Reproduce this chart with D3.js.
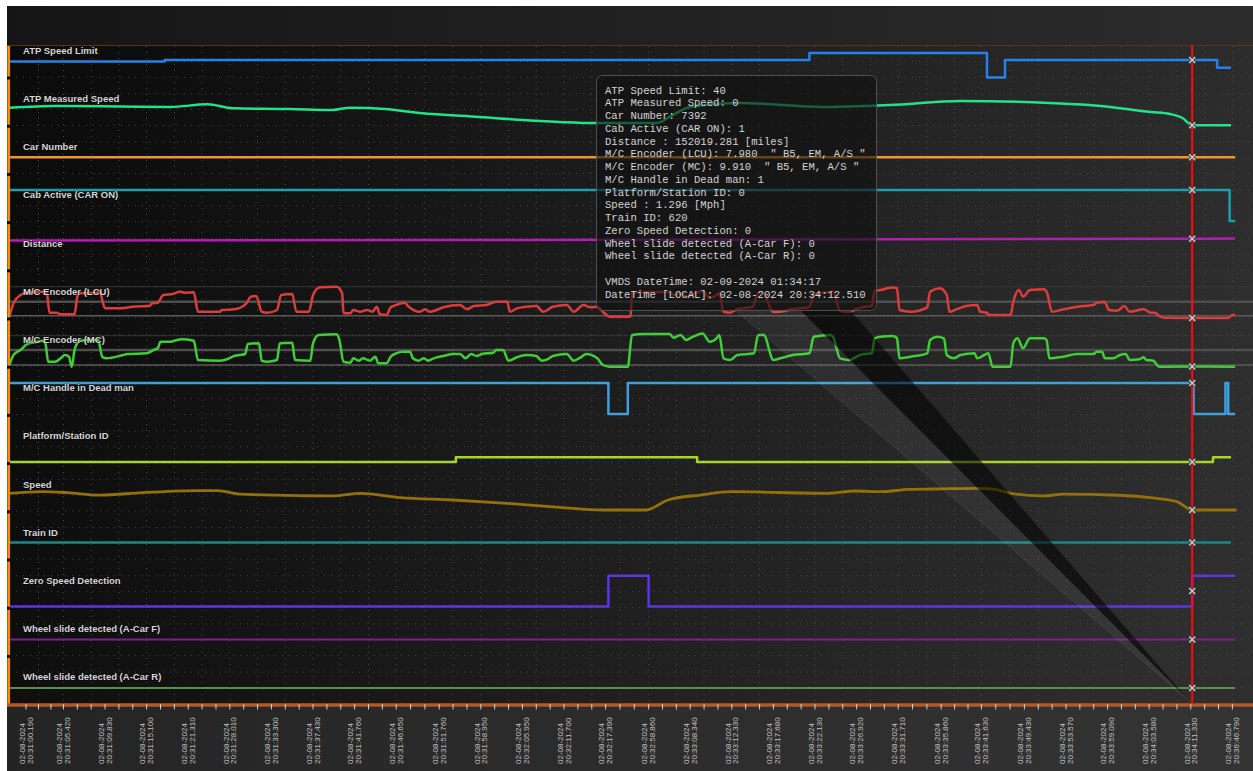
<!DOCTYPE html>
<html>
<head>
<meta charset="utf-8">
<script src="https://cdn.jsdelivr.net/npm/d3@7"></script>
<style>
  html, body { margin: 0; padding: 0; background: #fff; }
  svg { display: block; }
</style>
</head>
<body>
<svg id="chart" width="1253" height="771"></svg>
<script>
"use strict";

// ---- data (x = sample index on the log's index axis) ----
const seriesNames = [
  "ATP Speed Limit", "ATP Measured Speed", "Car Number", "Cab Active (CAR ON)",
  "Distance", "M/C Encoder (LCU)", "M/C Encoder (MC)", "M/C Handle in Dead man",
  "Platform/Station ID", "Speed", "Train ID", "Zero Speed Detection",
  "Wheel slide detected (A-Car F)", "Wheel slide detected (A-Car R)"
];

const labelDate = "02-08-2024";
const labelTimes = [
  "20:31:00.190", "20:31:05.420", "20:31:09.830", "20:31:15.100", "20:31:21.310",
  "20:31:28.010", "20:31:33.300", "20:31:37.430", "20:31:41.760", "20:31:46.650",
  "20:31:51.760", "20:31:58.950", "20:32:05.950", "20:32:11.700", "20:32:17.390",
  "20:32:58.860", "20:33:08.340", "20:33:12.330", "20:33:17.680", "20:33:22.130",
  "20:33:26.920", "20:33:31.710", "20:33:35.860", "20:33:41.630", "20:33:49.430",
  "20:33:53.570", "20:33:59.090", "20:34:03.580", "20:34:11.330", "20:36:46.790"
];
const labelSamples = [
  0, 27, 57, 87, 117, 147, 177, 207, 237, 267, 298, 328, 358, 388, 418,
  449, 479, 509, 539, 569, 599, 629, 660, 689, 720, 750, 780, 810, 840, 870
];

const atpSpeedLimit = [[-12, 38], [100, 40], [565, 50], [693, 15], [706, 40], [859, 29], [869, 29]];

const atpMeasuredSpeed = [
  [-12, 22.6], [22, 24.8], [68, 24.1], [104, 23.5], [131, 27.0], [149, 21.8], [190, 20.9],
  [221, 19.6], [234, 22.6], [259, 20.9], [284, 15.7], [327, 10.6], [371, 5.4], [407, 2.8],
  [455, 2.8], [464, 10.6], [479, 23.5], [515, 28.6], [575, 23.5], [623, 26.1], [674, 31.2],
  [738, 28.6], [775, 24.8], [811, 17.0], [825, 14.5], [834, 9.3], [841, 0], [869, 0]
];

const carNumber = [[-12, 7392], [872, 7392]];
const cabActive = [[-12, 1], [868, 0], [872, 0]];
const distance = [[-12, 152018.0], [841, 152019.281], [872, 152019.5]];

const encoderLcu = [
  [-12, 7.68], [-9, 4.33], [-4, 2.25], [1, 1.68], [12, 1.43], [15, 1.83], [17, 6.68], [22, 6.68],
  [25, 7.08], [35, 7.08], [37, 2.68], [39, 1.83], [51, 1.68], [53, 1.43], [57, 5.58], [68, 5.58],
  [77, 5.18], [89, 5.0], [91, 4.33], [95, 4.18], [99, 2.25], [106, 2.0], [111, 1.43], [115, 1.68],
  [121, 1.58], [124, 6.43], [140, 6.43], [141, 6.0], [150, 5.83], [159, 4.33], [162, 2.68],
  [166, 2.5], [170, 6.43], [174, 6.68], [181, 6.0], [184, 2.25], [192, 2.0], [195, 6.43],
  [204, 6.43], [207, 2.25], [212, 0.33], [224, 0.18], [228, 1.83], [229, 6.83], [234, 6.83],
  [236, 6.0], [241, 6.43], [246, 6.0], [250, 6.43], [253, 5.18], [255, 7.0], [260, 7.25],
  [263, 5.33], [267, 4.75], [273, 4.18], [276, 5.18], [284, 6.43], [288, 5.83], [291, 6.43],
  [296, 6.0], [301, 5.33], [313, 4.75], [318, 5.83], [323, 5.0], [332, 4.75], [339, 3.93],
  [347, 3.93], [349, 6.43], [354, 5.58], [361, 5.18], [368, 5.0], [373, 6.43], [380, 5.18],
  [390, 4.75], [395, 6.43], [402, 4.75], [407, 5.33], [412, 5.18], [416, 6.43], [421, 7.68],
  [436, 7.68], [437, 1.75], [445, 1.5], [464, 1.5], [467, 2.25], [472, 1.75], [477, 2.75],
  [481, 2.0], [488, 1.25], [493, 3.0], [498, 2.25], [500, 1.75], [503, 6.43], [508, 6.68],
  [513, 5.75], [524, 5.25], [528, 1.75], [531, 1.5], [539, 6.5], [544, 6.43], [553, 5.75],
  [565, 5.25], [568, 2.0], [580, 1.5], [582, 1.25], [587, 6.25], [594, 6.5], [599, 5.75],
  [604, 5.25], [610, 5.0], [612, 1.25], [616, 1.0], [625, 0.38], [628, 0.5], [630, 6.0],
  [638, 6.43], [650, 5.33], [652, 1.43], [659, 0.58], [664, 2.25], [666, 6.43], [671, 5.83],
  [678, 5.0], [686, 4.75], [688, 6.43], [693, 6.68], [694, 7.25], [710, 7.25], [712, 3.93],
  [716, 1.0], [719, 2.68], [724, 1.0], [734, 0.83], [736, 1.43], [740, 6.43], [748, 5.83],
  [762, 5.0], [770, 4.75], [772, 4.18], [778, 4.0], [781, 6.0], [787, 6.18], [792, 5.0],
  [796, 6.43], [806, 5.83], [811, 6.68], [814, 6.68], [818, 7.68], [821, 7.93], [841, 7.98],
  [867, 7.98], [870, 7.25], [872, 7.25]
];

const encoderMc = [
  [-12, 9.46], [-9, 6.46], [-4, 4.95], [1, 3.15], [8, 2.46], [12, 2.16], [14, 2.94], [16, 8.47],
  [21, 8.47], [25, 7.45], [28, 6.46], [31, 6.97], [33, 9.97], [35, 4.95], [38, 2.46], [40, 2.16],
  [44, 1.95], [52, 1.95], [55, 6.97], [58, 7.45], [70, 6.46], [73, 6.16], [87, 5.95], [92, 4.95],
  [95, 4.44], [97, 2.46], [104, 2.46], [109, 1.95], [112, 1.74], [121, 2.16], [124, 7.96],
  [140, 8.17], [145, 7.75], [150, 6.76], [158, 6.16], [160, 3.15], [168, 2.94], [170, 8.17],
  [174, 8.47], [181, 7.96], [183, 2.94], [192, 2.76], [194, 7.96], [205, 8.17], [207, 2.94],
  [211, 0.45], [224, 0.24], [226, 1.95], [229, 8.47], [234, 8.77], [236, 7.45], [240, 8.17],
  [243, 7.45], [248, 8.17], [252, 6.97], [254, 8.95], [260, 8.95], [263, 6.97], [267, 5.95],
  [272, 5.47], [277, 5.47], [279, 7.45], [283, 8.17], [287, 7.45], [290, 8.17], [294, 7.45],
  [301, 6.76], [308, 6.16], [313, 6.16], [317, 7.45], [321, 6.16], [325, 6.76], [329, 6.16],
  [337, 5.77], [339, 4.95], [344, 4.95], [348, 8.17], [354, 7.15], [361, 6.46], [368, 6.76],
  [372, 8.17], [376, 7.75], [380, 6.76], [390, 6.16], [395, 8.17], [400, 7.15], [404, 6.16],
  [412, 7.45], [416, 9.46], [421, 9.97], [434, 9.97], [437, 0.45], [445, 0.15], [464, 0.15],
  [467, 1.26], [472, 0.45], [476, 1.95], [481, 0.96], [488, 0.0], [493, 2.46], [498, 1.44],
  [500, 0.45], [503, 7.45], [508, 7.96], [513, 6.46], [525, 5.95], [528, 0.45], [532, 0.45],
  [539, 7.96], [544, 7.45], [553, 6.46], [565, 5.95], [568, 0.96], [580, 0.45], [582, 0.96],
  [587, 7.45], [594, 7.96], [599, 6.97], [604, 6.16], [610, 5.95], [612, 1.44], [616, 0.96],
  [625, 0.75], [628, 1.35], [630, 7.45], [638, 6.97], [650, 5.95], [652, 1.95], [657, 0.96],
  [662, 1.44], [664, 6.46], [669, 7.45], [674, 6.46], [684, 5.95], [686, 7.45], [691, 6.46],
  [694, 5.95], [697, 9.97], [710, 9.97], [712, 2.94], [715, 1.44], [719, 4.44], [724, 1.44],
  [734, 1.44], [736, 1.95], [738, 7.45], [748, 6.97], [758, 6.16], [770, 6.16], [772, 5.47],
  [776, 5.47], [778, 7.45], [784, 7.45], [789, 6.46], [793, 6.16], [796, 7.96], [803, 7.75],
  [806, 7.15], [808, 7.96], [813, 8.17], [817, 9.97], [841, 9.91], [872, 9.97]
];

const deadMan = [[-12, 1], [420, 0], [434, 1], [842, 0], [865, 1], [867, 0], [872, 0]];
const platformId = [[-12, 0], [310, 3], [484, 0], [856, 3], [869, 3]];

const speed = [
  [-12, 22.8], [12, 24.9], [30, 23.6], [53, 20.6], [84, 23.6], [125, 26.2], [138, 26.2],
  [154, 21.9], [198, 19.7], [221, 19.4], [241, 22.8], [270, 17.2], [308, 14.2], [347, 9.9],
  [385, 4.8], [416, 1.3], [447, 1.3], [463, 14.2], [486, 20.6], [509, 24.9], [578, 22.8],
  [598, 25.8], [617, 24.9], [637, 28.0], [656, 28.4], [687, 29.3], [699, 28.0], [710, 22.8],
  [733, 19.4], [749, 21.9], [788, 20.3], [811, 17.2], [830, 12.0], [841, 1.296], [873, 1.296]
];

const trainId = [[-12, 620], [869, 620]];
const zeroSpeed = [[-12, 0], [420, 1], [449, 0], [841, 1], [872, 1]];
const wheelSlideF = [[-12, 0], [872, 0]];
const wheelSlideR = [[-12, 0], [872, 0]];

// cursor sample and the value each marker sits on
const cursorSample = 841;
const markValues = [40, 0, 7392, 1, 152019.281, 7.98, 9.91, 1, 0, 1.296, 620, 0.5, 0, 0];

const tooltipLines = [
  "ATP Speed Limit: 40",
  "ATP Measured Speed: 0",
  "Car Number: 7392",
  "Cab Active (CAR ON): 1",
  "Distance : 152019.281 [miles]",
  "M/C Encoder (LCU): 7.980  \" B5, EM, A/S \"",
  "M/C Encoder (MC): 9.910  \" B5, EM, A/S \"",
  "M/C Handle in Dead man: 1",
  "Platform/Station ID: 0",
  "Speed : 1.296 [Mph]",
  "Train ID: 620",
  "Zero Speed Detection: 0",
  "Wheel slide detected (A-Car F): 0",
  "Wheel slide detected (A-Car R): 0",
  "",
  "VMDS DateTime: 02-09-2024 01:34:17",
  "DateTime [LOCAL]: 02-08-2024 20:34:12.510"
];

// ---- lane styling ----
const lanes = [
  { data: atpSpeedLimit, color: "#2482ec", domain: [0, 60], span: [43, 1], step: true },
  { data: atpMeasuredSpeed, color: "#22e38a", domain: [0, 40], span: [32, 1] },
  { data: carNumber, color: "#f0962e", domain: [0, 10000], span: [44, 6], step: true },
  { data: cabActive, color: "#1aa0b0", domain: [0, 1], span: [31.4, 0.4], step: true },
  { data: distance, color: "#b41cb4", domain: [151986, 152020], span: [44, 0] },
  { data: encoderLcu, color: "#dc3c3c", domain: [0, 8], span: [0, 32], refs: [0.18, 3.93, 7.43] },
  { data: encoderMc, color: "#40ce38", domain: [0, 10], span: [-0.7, 32.6], refs: [0.66, 4.95, 9.46] },
  { data: deadMan, color: "#3c9fe0", domain: [0, 1], span: [31.6, 0.6], step: true },
  { data: platformId, color: "#a6d52a", domain: [0, 20], span: [31.4, 0.4], step: true },
  { data: speed, color: "#94700a", domain: [0, 40], span: [32.2, 1.2], width: 2.8 },
  { data: trainId, color: "#138c88", domain: [0, 1200], span: [31, 1], step: true },
  { data: zeroSpeed, color: "#5b35e6", domain: [0, 1], span: [31.2, 0.6], step: true },
  { data: wheelSlideF, color: "#801d90", domain: [-1, 1], span: [31, 1], step: true, width: 2 },
  { data: wheelSlideR, color: "#5f8b4b", domain: [-1, 1], span: [31.8, 1], step: true, width: 2 }
];

const dims = {
  width: 1253, height: 771,
  left: 9, right: 1253, top: 45, bottom: 704,
  laneStep: 48.2,
  tip: { x: 596, y: 75, w: 280, h: 235 }
};

const svg = d3.select("#chart");
const defs = svg.append("defs");

function gradient(id, stops, x1, y1, x2, y2) {
  const g = defs.append("linearGradient").attr("id", id)
    .attr("gradientUnits", "userSpaceOnUse")
    .attr("x1", x1).attr("y1", y1).attr("x2", x2).attr("y2", y2);
  stops.forEach(([o, c]) => g.append("stop").attr("offset", o).attr("stop-color", c));
}
gradient("bgPlot", [[0, "#0a0a0a"], [0.3, "#141414"], [0.65, "#222"], [1, "#2e2e2e"]], 0, 0, 1253, 300);
gradient("bgHead", [[0, "#151515"], [1, "#2c2c2c"]], 0, 0, 1253, 0);
gradient("bgFoot", [[0, "#242424"], [1, "#343434"]], 0, 0, 1253, 0);

defs.append("clipPath").attr("id", "plotClip").append("rect")
  .attr("x", dims.left + 1).attr("y", dims.top)
  .attr("width", dims.right - dims.left).attr("height", dims.bottom - dims.top);

svg.append("rect").attr("width", dims.width).attr("height", dims.height).attr("fill", "#fff");
svg.append("rect").attr("x", 7).attr("y", 6).attr("width", dims.width - 7).attr("height", dims.top - 6)
  .attr("fill", "url(#bgHead)");
svg.append("rect").attr("x", 7).attr("y", dims.top).attr("width", dims.width - 7)
  .attr("height", dims.bottom - dims.top).attr("fill", "url(#bgPlot)");
svg.append("rect").attr("x", 7).attr("y", dims.bottom).attr("width", dims.width - 7)
  .attr("height", dims.height - dims.bottom).attr("fill", "url(#bgFoot)");

// scales
const x = d3.scaleLinear().domain([0, 870]).range([26, 1232.4]);
const lane = d3.scaleBand().domain(seriesNames)
  .range([dims.top, dims.top + dims.laneStep * seriesNames.length]);

lanes.forEach((s, i) => {
  const top = lane(seriesNames[i]);
  s.y = d3.scaleLinear().domain(s.domain).range([top + s.span[0], top + s.span[1]]);
  s.top = top;
});

// minor ticks: thirds between the labelled samples
const minorTicks = [labelSamples[0]];
for (let i = 1; i < labelSamples.length; i++) {
  const a = labelSamples[i - 1], b = labelSamples[i];
  minorTicks.push(a + (b - a) / 3, a + (2 * (b - a)) / 3, b);
}

// grid
const grid = svg.append("g").attr("clip-path", "url(#plotClip)");
grid.selectAll("line.v").data(minorTicks.filter((d, i) => i % 2 === 1)).join("line")
  .attr("class", "v")
  .attr("x1", (d) => x(d)).attr("x2", (d) => x(d))
  .attr("y1", dims.top + 1).attr("y2", dims.bottom - 1)
  .attr("stroke", "#4a4a4a").attr("stroke-width", 1).attr("stroke-dasharray", "1,5");

const hOffsets = [0.5, 16.2, 32.2];
lanes.forEach((s) => {
  hOffsets.forEach((o) => {
    grid.append("line")
      .attr("x1", dims.left).attr("x2", dims.right)
      .attr("y1", s.top + o).attr("y2", s.top + o)
      .attr("stroke", "#424242").attr("stroke-width", 1).attr("stroke-dasharray", "1,6");
  });
});

// encoder reference lines
const refStyle = [
  { color: "#363636", width: 1 },
  { color: "#4e4e4e", width: 2.6 },
  { color: "#5a5a5a", width: 1.5 }
];
lanes.filter((s) => s.refs).forEach((s) => {
  s.refs.forEach((r, j) => {
    grid.append("line")
      .attr("x1", dims.left).attr("x2", dims.right)
      .attr("y1", s.y(r)).attr("y2", s.y(r))
      .attr("stroke", refStyle[j].color).attr("stroke-width", refStyle[j].width);
  });
});

// series
const lineGroup = svg.append("g").attr("clip-path", "url(#plotClip)");
lanes.forEach((s) => {
  const line = d3.line()
    .x((d) => x(d[0]))
    .y((d) => s.y(d[1]))
    .curve(s.step ? d3.curveStepAfter : d3.curveMonotoneX);
  lineGroup.append("path")
    .attr("d", line(s.data))
    .attr("fill", "none")
    .attr("stroke", s.color)
    .attr("stroke-width", s.width || 2.5)
    .attr("stroke-linejoin", "round");
});

// left lane axes (orange)
lanes.forEach((s, i) => {
  const y0 = i === 0 ? dims.top : s.top - dims.laneStep + 34.5;
  const y1 = i === lanes.length - 1 ? dims.bottom : s.top + 31.5;
  svg.append("line")
    .attr("x1", 8.7).attr("x2", 8.7).attr("y1", y0).attr("y2", y1)
    .attr("stroke", "#f08c18").attr("stroke-width", 2.8);
});

// top border and bottom axis
svg.append("line").attr("x1", 7).attr("x2", dims.right).attr("y1", dims.top + 0.5).attr("y2", dims.top + 0.5)
  .attr("stroke", "#553519").attr("stroke-width", 1);
svg.append("line").attr("x1", 7).attr("x2", dims.right).attr("y1", dims.bottom + 1).attr("y2", dims.bottom + 1)
  .attr("stroke", "#b4582a").attr("stroke-width", 3.4);

const xAxis = svg.append("g");
xAxis.selectAll("line").data(minorTicks).join("line")
  .attr("x1", (d) => x(d)).attr("x2", (d) => x(d))
  .attr("y1", dims.bottom).attr("y2", dims.bottom + 5.5)
  .attr("stroke", "#cfcfcf").attr("stroke-width", 1);

const tickLabel = xAxis.selectAll("g.lbl").data(labelTimes).join("g")
  .attr("class", "lbl")
  .attr("transform", (d, i) => `translate(${x(labelSamples[i])},764) rotate(-90)`)
  .style("font-family", "'Liberation Sans', Arial, sans-serif")
  .style("font-size", "8px")
  .attr("fill", "#c2c2c2");
tickLabel.append("text").attr("x", 0).attr("y", -1.2).text(labelDate);
tickLabel.append("text").attr("x", 0).attr("y", 6.6).text((d) => d);

// lane labels
svg.append("g").selectAll("text").data(seriesNames).join("text")
  .attr("x", 23)
  .attr("y", (d) => lane(d) + 8.7)
  .style("font-family", "'Liberation Sans', Arial, sans-serif")
  .style("font-size", "9.5px")
  .style("font-weight", "bold")
  .attr("fill", "#d6d6d6")
  .attr("stroke", "rgba(0,0,0,0.45)")
  .attr("stroke-width", 1.2)
  .attr("paint-order", "stroke")
  .text((d) => d);

// tooltip tail
const cx = x(cursorSample);
const tip = dims.tip;
const apex = [cx - 2, dims.bottom - 2];
const tipBottom = tip.y + tip.h;
svg.append("path")
  .attr("d", d3.line()([[tip.x + 139, tipBottom], [tip.x + 204, tipBottom], apex]) + "Z")
  .attr("fill", "rgba(255,255,255,0.05)")
  .attr("stroke", "rgba(160,160,160,0.2)").attr("stroke-width", 0.8);
svg.append("path")
  .attr("d", d3.line()([[tip.x + 204, tipBottom], [tip.x + 254, tipBottom], apex]) + "Z")
  .attr("fill", "rgba(0,0,0,0.55)");

// tooltip box
const tipG = svg.append("g").attr("transform", `translate(${tip.x},${tip.y})`);
tipG.append("rect")
  .attr("x", 0.5).attr("y", 0.5).attr("width", tip.w).attr("height", tip.h).attr("rx", 6)
  .attr("fill", "rgba(16,16,16,0.62)")
  .attr("stroke", "#505050").attr("stroke-width", 1);
tipG.selectAll("text").data(tooltipLines).join("text")
  .attr("x", 9)
  .attr("y", (d, i) => 18.5 + 12.75 * i)
  .style("font-family", "'Liberation Mono', 'Courier New', monospace")
  .style("font-size", "10.6px")
  .style("white-space", "pre")
  .attr("fill", "#d4d4d4")
  .text((d) => d);

// cursor
svg.append("line")
  .attr("x1", cx).attr("x2", cx).attr("y1", dims.top).attr("y2", dims.bottom)
  .attr("stroke", "#ff0a0a").attr("stroke-width", 2);

// markers
const markG = svg.append("g");
lanes.forEach((s, i) => {
  const g = markG.append("g").attr("transform", `translate(${cx},${s.y(markValues[i])})`);
  g.append("path").attr("d", "M-3,-3L3,3M-3,3L3,-3")
    .attr("stroke", "#3a3a3a").attr("stroke-width", 3.2);
  g.append("path").attr("d", "M-3,-3L3,3M-3,3L3,-3")
    .attr("stroke", "#cfcfcf").attr("stroke-width", 1.4);
});
</script>
</body>
</html>
